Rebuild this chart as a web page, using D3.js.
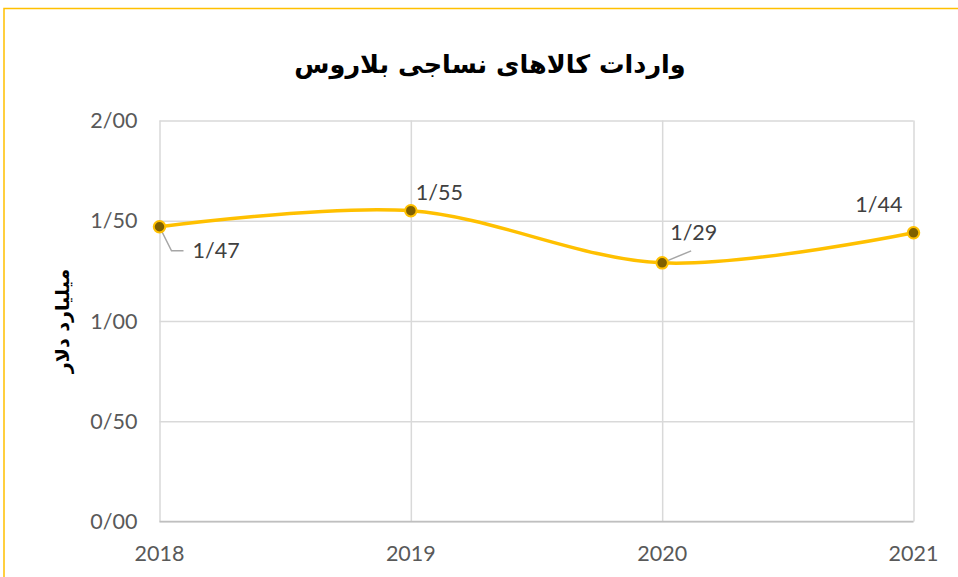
<!DOCTYPE html>
<html>
<head>
<meta charset="utf-8">
<script src="https://cdn.jsdelivr.net/npm/d3@7"></script>
<style>
    body { margin: 0; background: #fff; }
    svg { display: block; }
    .tick-label { font-family: Lato, "Open Sans", sans-serif; font-size: 21.5px; fill: #595959; }
    .data-label { font-family: Lato, "Open Sans", sans-serif; font-size: 21.5px; fill: #404040; }
    .title { font-family: Tahoma, "DejaVu Sans", sans-serif; font-weight: bold; font-size: 25.5px; fill: #000; }
    .axis-title { font-family: Tahoma, "DejaVu Sans", sans-serif; font-weight: bold; font-size: 19px; fill: #000; }
</style>
</head>
<body>
<svg></svg>
<script>
// Data
let years = ['2018', '2019', '2020', '2021']
let values = [1.47, 1.55, 1.29, 1.44]
let yTicks = [0, 0.5, 1, 1.5, 2]
let title = 'واردات کالاهای نساجی بلاروس'
let yTitle = 'میلیارد دلار'

// Graph Dimensions
let width = 958
let height = 577
let plot = { left: 159.5, right: 913.5, top: 120.5, bottom: 521.5 }

let fmt = d => d3.format('.2f')(d).replace('.', '/')

// Scales
let scale = {
    x: d3.scalePoint().domain(years).range([plot.left, plot.right]),
    y: d3.scaleLinear().domain([0, 2]).range([plot.bottom, plot.top])
}

let svg = d3.select('svg')
    .attr('width', width)
    .attr('height', height)

// Chart border (extends past the window on right/bottom)
svg.append('rect')
    .attr('x', 4)
    .attr('y', 8.5)
    .attr('width', 1200)
    .attr('height', 1200)
    .attr('fill', 'none')
    .attr('stroke', '#FFC000')
    .attr('stroke-width', 1.5)

// Gridlines
let grid = {
    x: d3.axisBottom(scale.x).tickFormat('').tickSize(-(plot.bottom - plot.top)),
    y: d3.axisLeft(scale.y).tickValues(yTicks).tickFormat('').tickSize(-(plot.right - plot.left))
}

svg.append('g')
    .attr('transform', `translate(0,${plot.bottom})`)
    .call(grid.x)
    .call(g => g.select('.domain').remove())
    .call(g => g.selectAll('line').attr('stroke', '#d9d9d9').attr('stroke-width', 1.5))

svg.append('g')
    .attr('transform', `translate(${plot.left},0)`)
    .call(grid.y)
    .call(g => g.select('.domain').remove())
    .call(g => g.selectAll('line').attr('stroke', '#d9d9d9').attr('stroke-width', 1.5))

// Base axis line
svg.append('line')
    .attr('x1', plot.left)
    .attr('x2', plot.right)
    .attr('y1', scale.y(0))
    .attr('y2', scale.y(0))
    .attr('stroke', '#bfbfbf')
    .attr('stroke-width', 1.5)

// Y tick labels
svg.append('g')
    .selectAll('text')
    .data(yTicks)
    .enter()
    .append('text')
    .attr('class', 'tick-label')
    .attr('x', plot.left - 22)
    .attr('y', d => scale.y(d) + 7.5)
    .attr('text-anchor', 'end')
    .text(d => fmt(d))

// X tick labels
svg.append('g')
    .selectAll('text')
    .data(years)
    .enter()
    .append('text')
    .attr('class', 'tick-label')
    .attr('x', d => scale.x(d))
    .attr('y', 561)
    .attr('text-anchor', 'middle')
    .text(d => d)

// Smoothed line
let dataset = years.map((y, i) => ({ year: y, value: values[i] }))
let line = d3.line()
    .x(d => scale.x(d.year))
    .y(d => scale.y(d.value))
    .curve(d3.curveCatmullRom.alpha(0))

svg.append('path')
    .datum(dataset)
    .attr('d', line)
    .attr('fill', 'none')
    .attr('stroke', '#FFC000')
    .attr('stroke-width', 3.5)
    .attr('stroke-linecap', 'round')

// Leader lines (for labels moved away from their point)
let leaders = [
    { i: 0, pts: [[0, 0], [12, 24], [24, 24]] },
    { i: 2, pts: [[0, 0], [29, -12]] }
]
leaders.forEach(l => {
    let d = dataset[l.i]
    let cx = scale.x(d.year), cy = scale.y(d.value)
    svg.append('polyline')
        .attr('points', l.pts.map(p => `${cx + p[0]},${cy + p[1]}`).join(' '))
        .attr('fill', 'none')
        .attr('stroke', '#a6a6a6')
        .attr('stroke-width', 1.5)
})

// Markers
svg.selectAll('circle')
    .data(dataset)
    .enter()
    .append('circle')
    .attr('cx', d => scale.x(d.year))
    .attr('cy', d => scale.y(d.value))
    .attr('r', 5.75)
    .attr('fill', '#7F6000')
    .attr('stroke', '#FFC000')
    .attr('stroke-width', 2)

// Data labels
let labelOffset = [
    { dx: 33, dy: 31, anchor: 'start' },
    { dx: 5, dy: -11, anchor: 'start' },
    { dx: 8, dy: -23, anchor: 'start' },
    { dx: -11, dy: -21, anchor: 'end' }
]
svg.append('g')
    .selectAll('text')
    .data(dataset)
    .enter()
    .append('text')
    .attr('class', 'data-label')
    .attr('x', (d, i) => scale.x(d.year) + labelOffset[i].dx)
    .attr('y', (d, i) => scale.y(d.value) + labelOffset[i].dy)
    .attr('text-anchor', (d, i) => labelOffset[i].anchor)
    .text(d => fmt(d.value))

// Title
svg.append('text')
    .attr('class', 'title')
    .attr('x', 490)
    .attr('y', 73)
    .attr('text-anchor', 'middle')
    .attr('direction', 'rtl')
    .text(title)

// Y label
svg.append('text')
    .attr('class', 'axis-title')
    .attr('transform', `translate(69,${(plot.top + plot.bottom) / 2}) rotate(-90)`)
    .attr('text-anchor', 'middle')
    .attr('direction', 'rtl')
    .text(yTitle)
</script>
</body>
</html>
